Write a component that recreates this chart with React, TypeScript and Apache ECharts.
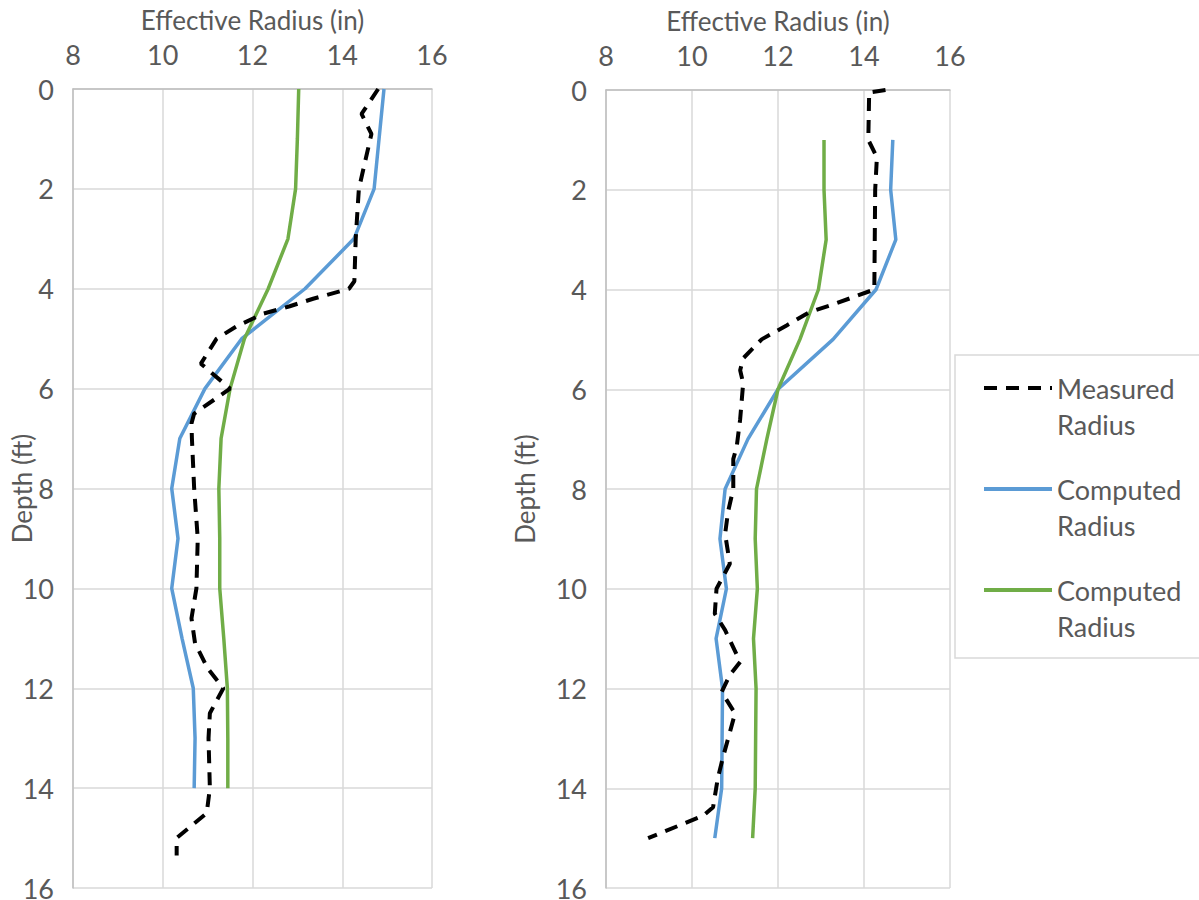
import React, { useEffect, useRef } from "react";
import * as echarts from "echarts";

// ---------- data ----------
const xTicks = [8, 10, 12, 14, 16];
const depthTicks = [0, 2, 4, 6, 8, 10, 12, 14, 16];

const seriesNames = ["Measured Radius", "Computed Radius", "Computed Radius "];

// Left panel
const leftMeasuredDepth = [0, 0.5, 0.9, 2.0, 3.0, 3.85, 4.0, 4.2, 4.35, 4.5, 4.75, 5.0, 5.5, 6.0, 6.5, 6.7, 7, 8, 9, 10, 10.6, 11.1, 11.6, 12.0, 12.5, 13, 14, 14.5, 15.0, 15.35];
const leftMeasuredRadius = [14.8, 14.43, 14.65, 14.37, 14.3, 14.27, 14.15, 13.35, 12.83, 12.24, 11.65, 11.2, 10.85, 11.5, 10.7, 10.64, 10.65, 10.7, 10.78, 10.75, 10.64, 10.72, 11.0, 11.35, 11.05, 11.02, 11.05, 10.98, 10.31, 10.31];
const leftComputedDepth = [0, 1, 2, 3, 4, 5, 6, 7, 8, 9, 10, 11, 12, 13, 14];
const leftComputedBlue = [14.93, 14.82, 14.71, 14.26, 13.17, 11.76, 10.94, 10.38, 10.2, 10.34, 10.2, 10.43, 10.68, 10.72, 10.7];
const leftComputedGreen = [13.03, 13.0, 12.96, 12.79, 12.35, 11.82, 11.5, 11.3, 11.25, 11.27, 11.27, 11.36, 11.44, 11.45, 11.45];

// Right panel
const rightMeasuredDepth = [0, 0.05, 1.0, 1.35, 2, 4.0, 4.3, 4.45, 4.72, 5.0, 5.38, 5.62, 5.88, 6.6, 7.15, 7.4, 8.0, 8.45, 8.9, 9.5, 10.0, 10.5, 10.83, 11.47, 11.73, 12.07, 12.5, 13.38, 13.8, 14.38, 14.55, 15.0];
const rightMeasuredRadius = [14.5, 14.12, 14.1, 14.3, 14.26, 14.24, 13.28, 12.74, 12.2, 11.62, 11.19, 11.12, 11.19, 11.12, 11.04, 10.96, 10.96, 10.84, 10.77, 10.88, 10.57, 10.53, 10.77, 11.12, 10.88, 10.69, 11.0, 10.72, 10.6, 10.49, 10.26, 8.98];
const rightComputedDepth = [1, 2, 3, 4, 5, 6, 7, 8, 9, 10, 11, 12, 13, 14, 15];
const rightComputedBlue = [14.67, 14.62, 14.74, 14.28, 13.28, 12.0, 11.3, 10.77, 10.65, 10.8, 10.56, 10.71, 10.7, 10.69, 10.53];
const rightComputedGreen = [13.07, 13.07, 13.12, 12.94, 12.51, 12.0, 11.74, 11.5, 11.47, 11.52, 11.43, 11.49, 11.48, 11.47, 11.41];

const zip = (xs: number[], ys: number[]) => xs.map((x, i) => [x, ys[i]]);

const FONT = "Lato, 'Open Sans', sans-serif";
const TEXT = "#595959";

export default function App() {
  const ref = useRef<HTMLDivElement>(null);
  useEffect(() => {
    if (!ref.current) return;
    const chart = echarts.init(ref.current, undefined, { renderer: "svg" });

    const xAxisBase = (gridIndex: number) => ({
      type: "value",
      gridIndex,
      position: "top",
      min: xTicks[0],
      max: xTicks[xTicks.length - 1],
      interval: 2,
      name: "Effective Radius (in)",
      nameLocation: "middle",
      nameGap: 56,
      nameMoveOverlap: false,
      nameTextStyle: { color: TEXT, fontSize: 26, fontFamily: FONT },
      axisLine: { show: true, lineStyle: { color: "#bfbfbf", width: 1.5 } },
      axisTick: { show: false },
      axisLabel: { color: TEXT, fontSize: 27, fontFamily: FONT, margin: 26, lineHeight: 18 },
      splitLine: { show: true, lineStyle: { color: "#d9d9d9", width: 1.5 } },
    });
    const yAxisBase = (gridIndex: number, nameGap: number) => ({
      type: "value",
      gridIndex,
      inverse: true,
      min: depthTicks[0],
      max: depthTicks[depthTicks.length - 1],
      interval: 2,
      name: "Depth (ft)",
      nameLocation: "middle",
      nameGap,
      nameMoveOverlap: false,
      nameTextStyle: { color: TEXT, fontSize: 26, fontFamily: FONT },
      axisLine: { show: true, lineStyle: { color: "#bfbfbf", width: 1.5 } },
      axisTick: { show: false },
      axisLabel: { color: TEXT, fontSize: 27, fontFamily: FONT, margin: 19, lineHeight: 18 },
      splitLine: { show: true, lineStyle: { color: "#d9d9d9", width: 1.5 } },
    });

    const measuredStyle = { color: "#000000", width: 4, type: [13, 9] as any };
    const blueStyle = { color: "#5B9BD5", width: 3.5 };
    const greenStyle = { color: "#70AD47", width: 3.5 };

    const mk = (name: string, idx: number, data: number[][], lineStyle: any, z: number) => ({
      name,
      type: "line",
      xAxisIndex: idx,
      yAxisIndex: idx,
      data,
      showSymbol: false,
      symbol: "none",
      color: lineStyle.color,
      lineStyle,
      z,
    });

    chart.setOption({
      animation: false,
      backgroundColor: "#ffffff",
      grid: [
        { left: 73, top: 89, width: 359, height: 799, outerBoundsMode: "none", containLabel: false },
        { left: 606, top: 90, width: 344, height: 798, outerBoundsMode: "none", containLabel: false },
      ],
      xAxis: [xAxisBase(0), xAxisBase(1)],
      yAxis: [yAxisBase(0, 38), yAxisBase(1, 68)],
      graphic: [
        {
          type: "rect",
          z: 1,
          shape: { x: 955, y: 355, width: 260, height: 303 },
          style: { fill: "#ffffff", stroke: "#d9d9d9", lineWidth: 1.5 },
        },
      ],
      legend: {
        z: 10,
        orient: "vertical",
        left: 982,
        top: 334,
        padding: 0,
        itemGap: -7,
        itemWidth: 68,
        itemHeight: 14,
        itemStyle: { opacity: 0, borderWidth: 0 },
        lineStyle: { width: 4 },
        data: seriesNames,
        formatter: (n: string) => "\n" + n.trim().replace(" ", "\n"),
        textStyle: {
          color: TEXT,
          fontSize: 27,
          fontFamily: FONT,
          lineHeight: 36,
        },
      },
      series: [
        mk(seriesNames[0], 0, zip(leftMeasuredRadius, leftMeasuredDepth), measuredStyle, 3),
        mk(seriesNames[1], 0, zip(leftComputedBlue, leftComputedDepth), blueStyle, 2),
        mk(seriesNames[2], 0, zip(leftComputedGreen, leftComputedDepth), greenStyle, 2),
        mk(seriesNames[0], 1, zip(rightMeasuredRadius, rightMeasuredDepth), measuredStyle, 3),
        mk(seriesNames[1], 1, zip(rightComputedBlue, rightComputedDepth), blueStyle, 2),
        mk(seriesNames[2], 1, zip(rightComputedGreen, rightComputedDepth), greenStyle, 2),
      ],
    });
    return () => chart.dispose();
  }, []);
  return (
    <div
      ref={ref}
      style={{ position: "fixed", left: 0, top: 0, width: 1199, height: 900, background: "#fff" }}
    />
  );
}
